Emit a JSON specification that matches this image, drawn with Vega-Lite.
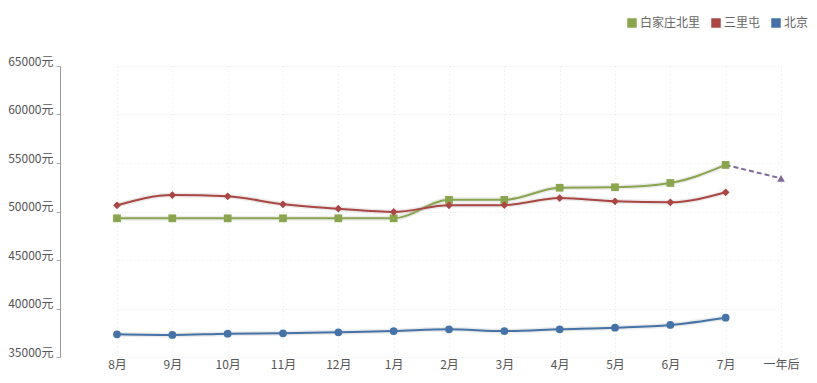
{
  "$schema": "https://vega.github.io/schema/vega-lite/v6.json",
  "width": 755,
  "height": 291,
  "autosize": {"type": "none"},
  "padding": {"left": 60, "top": 66, "right": 2, "bottom": 26},
  "background": "white",
  "config": {
    "font": "Noto Sans CJK SC",
    "view": {"stroke": null}
  },
  "datasets": {
    "main": [
      {"month": "8月", "series": "白家庄北里", "value": 49300},
      {"month": "9月", "series": "白家庄北里", "value": 49300},
      {"month": "10月", "series": "白家庄北里", "value": 49300},
      {"month": "11月", "series": "白家庄北里", "value": 49300},
      {"month": "12月", "series": "白家庄北里", "value": 49300},
      {"month": "1月", "series": "白家庄北里", "value": 49300},
      {"month": "2月", "series": "白家庄北里", "value": 51200},
      {"month": "3月", "series": "白家庄北里", "value": 51200},
      {"month": "4月", "series": "白家庄北里", "value": 52450},
      {"month": "5月", "series": "白家庄北里", "value": 52500},
      {"month": "6月", "series": "白家庄北里", "value": 52940},
      {"month": "7月", "series": "白家庄北里", "value": 54800},
      {"month": "8月", "series": "三里屯", "value": 50640},
      {"month": "9月", "series": "三里屯", "value": 51700},
      {"month": "10月", "series": "三里屯", "value": 51570},
      {"month": "11月", "series": "三里屯", "value": 50740},
      {"month": "12月", "series": "三里屯", "value": 50290},
      {"month": "1月", "series": "三里屯", "value": 49950},
      {"month": "2月", "series": "三里屯", "value": 50640},
      {"month": "3月", "series": "三里屯", "value": 50660},
      {"month": "4月", "series": "三里屯", "value": 51390},
      {"month": "5月", "series": "三里屯", "value": 51050},
      {"month": "6月", "series": "三里屯", "value": 50950},
      {"month": "7月", "series": "三里屯", "value": 51980},
      {"month": "8月", "series": "北京", "value": 37340},
      {"month": "9月", "series": "北京", "value": 37270},
      {"month": "10月", "series": "北京", "value": 37400},
      {"month": "11月", "series": "北京", "value": 37440},
      {"month": "12月", "series": "北京", "value": 37550},
      {"month": "1月", "series": "北京", "value": 37680},
      {"month": "2月", "series": "北京", "value": 37860},
      {"month": "3月", "series": "北京", "value": 37680},
      {"month": "4月", "series": "北京", "value": 37860},
      {"month": "5月", "series": "北京", "value": 38020},
      {"month": "6月", "series": "北京", "value": 38300},
      {"month": "7月", "series": "北京", "value": 39050}
    ],
    "forecast": [
      {"month": "7月", "value": 54800, "end": false},
      {"month": "一年后", "value": 53420, "end": true}
    ]
  },
  "encoding": {
    "x": {
      "field": "month",
      "type": "ordinal",
      "sort": ["8月","9月","10月","11月","12月","1月","2月","3月","4月","5月","6月","7月","一年后"],
      "scale": {"type": "point", "padding": 0, "domain": ["8月","9月","10月","11月","12月","1月","2月","3月","4月","5月","6月","7月","一年后"], "range": [57, 721]},
      "axis": {
        "title": null,
        "labelAngle": 0,
        "labelFontSize": 12,
        "labelColor": "#555555",
        "labelPadding": 2,
        "ticks": false,
        "domain": false,
        "grid": true,
        "gridColor": "#e6e6e6",
        "gridDash": [1, 3]
      }
    },
    "y": {
      "field": "value",
      "type": "quantitative",
      "scale": {"domain": [35000, 65000], "nice": false, "zero": false},
      "axis": {
        "title": null,
        "values": [35000, 40000, 45000, 50000, 55000, 60000, 65000],
        "labelExpr": "datum.value + '元'",
        "labelFontSize": 12,
        "labelColor": "#555555",
        "labelPadding": 3,
        "labelOffset": -5,
        "tickSize": 4,
        "tickColor": "#aaaaaa",
        "domainColor": "#999999",
        "grid": true,
        "gridColor": "#eeeeee",
        "gridDash": [2, 2]
      }
    }
  },
  "layer": [
    {
      "mark": {"type": "rule", "color": "#999999", "strokeWidth": 1},
      "encoding": {"x": null, "y": {"datum": 35000}}
    },
    {
      "data": {"name": "main"},
      "mark": {"type": "line", "interpolate": "monotone", "strokeWidth": 5, "color": "#000000", "opacity": 0.08},
      "encoding": {"detail": {"field": "series"}}
    },
    {
      "data": {"name": "forecast"},
      "mark": {"type": "line", "strokeWidth": 2, "strokeDash": [5, 3], "color": "#80699B"},
      "encoding": {}
    },
    {
      "data": {"name": "main"},
      "transform": [{"filter": "datum.series === '白家庄北里'"}],
      "mark": {"type": "line", "interpolate": "monotone", "strokeWidth": 2, "color": "#89A54E"},
      "encoding": {}
    },
    {
      "data": {"name": "main"},
      "transform": [{"filter": "datum.series === '三里屯'"}],
      "mark": {"type": "line", "interpolate": "monotone", "strokeWidth": 2, "color": "#AA4643"},
      "encoding": {}
    },
    {
      "data": {"name": "main"},
      "transform": [{"filter": "datum.series === '北京'"}],
      "mark": {"type": "line", "interpolate": "monotone", "strokeWidth": 2, "color": "#4572A7"},
      "encoding": {}
    },
    {
      "data": {"name": "main"},
      "mark": {"type": "point", "filled": true, "opacity": 1, "size": 0, "shape": "square"},
      "encoding": {
        "color": {
          "field": "series",
          "type": "nominal",
          "scale": {"domain": ["白家庄北里", "三里屯", "北京"], "range": ["#89A54E", "#AA4643", "#4572A7"]},
          "legend": {
            "title": null,
            "orient": "none",
            "direction": "horizontal",
            "legendX": 566,
            "legendY": -49,
            "symbolType": "square",
            "symbolSize": 90,
            "symbolOpacity": 1,
            "symbolStrokeWidth": 0,
            "labelFontSize": 12,
            "labelColor": "#666666",
            "labelOffset": 2,
            "columnPadding": 9
          }
        }
      }
    },
    {
      "data": {"name": "main"},
      "transform": [{"filter": "datum.series === '白家庄北里'"}],
      "mark": {"type": "point", "filled": true, "opacity": 1, "size": 60, "shape": "square", "color": "#89A54E"},
      "encoding": {}
    },
    {
      "data": {"name": "main"},
      "transform": [{"filter": "datum.series === '三里屯'"}],
      "mark": {"type": "point", "filled": true, "opacity": 1, "size": 60, "shape": "diamond", "color": "#AA4643"},
      "encoding": {}
    },
    {
      "data": {"name": "main"},
      "transform": [{"filter": "datum.series === '北京'"}],
      "mark": {"type": "point", "filled": true, "opacity": 1, "size": 60, "shape": "circle", "color": "#4572A7"},
      "encoding": {}
    },
    {
      "data": {"name": "forecast"},
      "transform": [{"filter": "datum.end"}],
      "mark": {"type": "point", "filled": true, "opacity": 1, "shape": "triangle-up", "size": 60, "color": "#80699B"},
      "encoding": {}
    }
  ]
}
